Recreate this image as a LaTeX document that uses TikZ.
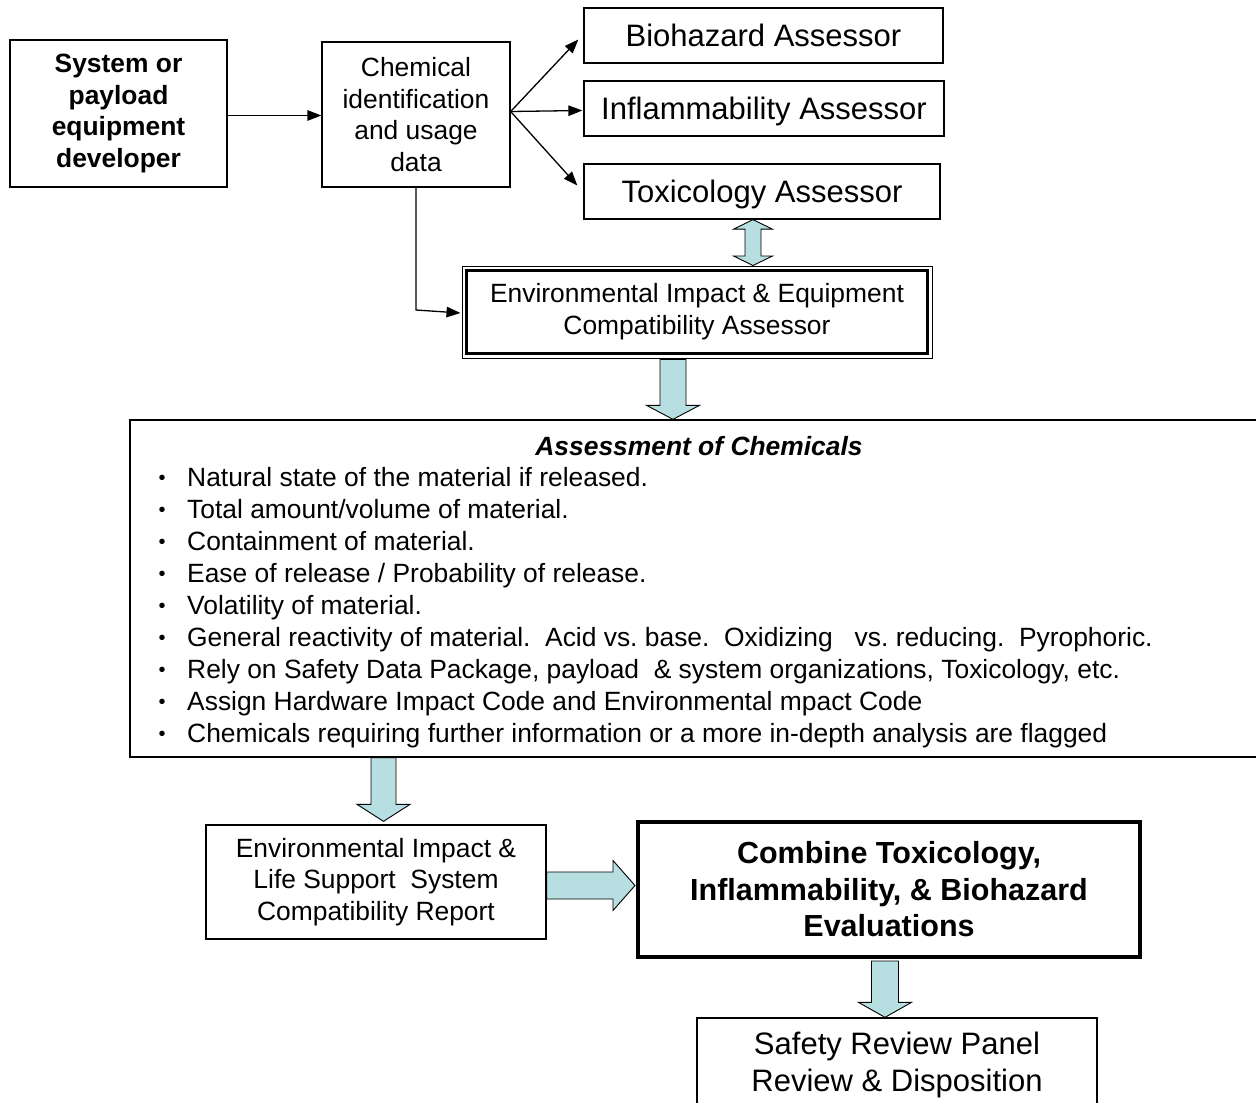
\documentclass[tikz,border=0pt]{standalone}
\usepackage{fontspec}
\setmainfont{Liberation Sans}
\usetikzlibrary{arrows.meta,calc}
\definecolor{arrowfill}{RGB}{183,222,224}
\newcommand{\fA}{\fontsize{26.4}{31.7}\selectfont}
\newcommand{\fB}{\fontsize{31}{37}\selectfont}
\newcommand{\fC}{\fontsize{30.5}{36.5}\selectfont\bfseries}
\newcommand{\downblk}[5]{%
  \draw[blockarrow] let \p1=(#1), \p2=(#2) in
  (\x1-#3,\y1) -- (\x1-#3,\y2+#5) -- (\x1-#4,\y2+#5) -- (\x1,\y2) --
  (\x1+#4,\y2+#5) -- (\x1+#3,\y2+#5) -- (\x1+#3,\y1) -- cycle;}
\newcommand{\rightblk}[5]{%
  \draw[blockarrow] let \p1=(#1), \p2=(#2) in
  (\x1,\y1+#3) -- (\x2-#5,\y1+#3) -- (\x2-#5,\y1+#4) -- (\x2,\y1) --
  (\x2-#5,\y1-#4) -- (\x2-#5,\y1-#3) -- (\x1,\y1-#3) -- cycle;}
\newcommand{\updownblk}[5]{%
  \draw[blockarrow] let \p1=(#1), \p2=(#2) in
  (\x1,\y1) -- (\x1+#4,\y1-#5) -- (\x1+#3,\y1-#5) -- (\x1+#3,\y2+#5) --
  (\x1+#4,\y2+#5) -- (\x1,\y2) -- (\x1-#4,\y2+#5) -- (\x1-#3,\y2+#5) --
  (\x1-#3,\y1-#5) -- (\x1-#4,\y1-#5) -- cycle;}
\tikzset{
  box/.style={draw, line width=1.3pt, align=center, inner sep=0pt},
  assessor/.style={box, minimum height=55, font=\fB, text height=25pt, text depth=3pt},
  blockarrow/.style={draw, line width=0.9pt, fill=arrowfill, line join=miter},
  conn/.style={line width=1.3pt, -{Triangle[length=14pt,width=10.5pt]}},
}
\frenchspacing
\begin{document}
\begin{tikzpicture}[x=1pt,y=-1pt]
\useasboundingbox (0,0) rectangle (1256,1103);
\clip (0,0) rectangle (1256,1103);

% top row
\node[box, minimum width=217, minimum height=147, font=\fA\bfseries] (dev) at (118.5,113.5)
  {System or\\payload\\equipment\\developer};
\node[box, minimum width=188, minimum height=145, font=\fA] (chem) at (416,114.5)
  {Chemical\\identification\\and usage\\data};
\node[assessor, minimum width=359] (bio) at (763.5,35.5) {Biohazard Assessor};
\node[assessor, minimum width=360] (infl) at (764,108.5) {Inflammability Assessor};
\node[assessor, minimum width=356] (tox) at (762,191.5) {Toxicology Assessor};

% environmental assessor (double border)
\node[box, line width=1pt, minimum width=470, minimum height=92, font=\fA] (env) at (697,312)
  {Environmental Impact \& Equipment\\Compatibility Assessor};
\draw[line width=2.5pt] ([shift={(5pt,-5pt)}]env.north west) rectangle ([shift={(-5pt,5pt)}]env.south east);

% assessment box
\node[box, minimum width=1132, minimum height=337] (assess) at (696,588.5) {};
\node[anchor=base, font=\fA\bfseries\itshape, inner sep=0pt] (atitle) at (699,455) {Assessment of Chemicals};
\foreach \t [count=\i] in {
  {Natural state of the material if released.},
  {Total amount/volume of material.},
  {Containment of material.},
  {Ease of release / Probability of release.},
  {Volatility of material.},
  {General reactivity of material.\ \ Acid vs. base.\ \ Oxidizing\ \ \ vs. reducing.\ \ Pyrophoric.},
  {Rely on Safety Data Package, payload\ \ \& system organizations, Toxicology, etc.},
  {Assign Hardware Impact Code and Environmental mpact Code},
  {Chemicals requiring further information or a more in-depth analysis are flagged}}
{
  \node[anchor=base, font=\fontsize{20}{20}\selectfont, inner sep=0pt] (bul\i) at (162,452+32*\i) {•};
  \node[anchor=base west, font=\fA, inner sep=0pt] (item\i) at (187,454+32*\i) {\t};
}

% bottom
\node[box, minimum width=340, minimum height=114, font=\fA] (report) at (376,882)
  {Environmental Impact \&\\Life Support\ \ System\\Compatibility Report};
\node[box, line width=4pt, minimum width=502, minimum height=135, font=\fC] (comb) at (889,889.5)
  {Combine Toxicology,\\Inflammability, \& Biohazard\\Evaluations};
\node[box, minimum width=400, minimum height=93, font=\fB] (safety) at (897,1064.5)
  {Safety Review Panel\\Review \& Disposition};

% thin connectors
\draw[conn] ([yshift=-2pt]dev.east) -- ([yshift=-2pt]dev.east -| chem.west);
\coordinate (fan) at ([yshift=3pt]chem.east);
\draw[conn] (fan) -- ([xshift=-5pt,yshift=-4pt]bio.west);
\draw[conn] (fan) -- ([xshift=-1pt,yshift=-2pt]infl.west);
\draw[conn] (fan) -- ([xshift=-6pt,yshift=6pt]tox.west);
\coordinate (bend) at ([yshift=2pt]chem.south |- env.west);
\draw[conn] (chem.south) -- (bend) -- ([xshift=-1pt,yshift=-1pt]env.west);

% block arrows
\coordinate (a5s) at ([xshift=-9pt]tox.south);
\coordinate (a5e) at (a5s |- env.north);
\updownblk{a5s}{a5e}{8pt}{19.5pt}{9.5pt}

\coordinate (a1s) at ([xshift=-24pt,yshift=-1pt]env.south);
\coordinate (a1e) at (a1s |- assess.north);
\downblk{a1s}{a1e}{13pt}{26.5pt}{14pt}

\coordinate (a2e) at ([xshift=7.5pt,yshift=3pt]report.north);
\coordinate (a2s) at (a2e |- assess.south);
\downblk{a2s}{a2e}{12.5pt}{26.5pt}{17pt}

\coordinate (a3s) at ([yshift=-3.5pt]report.east);
\coordinate (a3e) at ([xshift=-1pt]a3s -| comb.west);
\rightblk{a3s}{a3e}{13.5pt}{25pt}{22pt}

\coordinate (a4s) at ([xshift=-4pt,yshift=-2pt]comb.south);
\coordinate (a4e) at (a4s |- safety.north);
\downblk{a4s}{a4e}{13.5pt}{26.5pt}{15pt}
\end{tikzpicture}
\end{document}
